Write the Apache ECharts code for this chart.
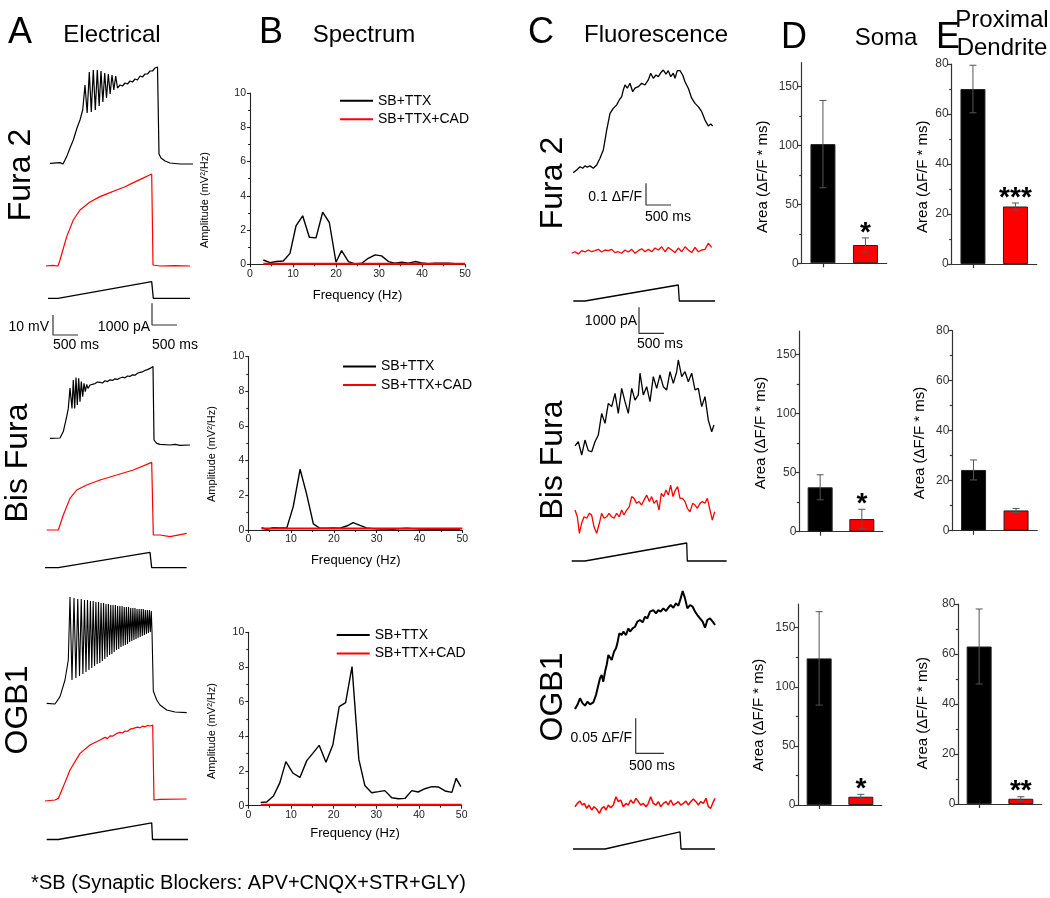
<!DOCTYPE html>
<html><head><meta charset="utf-8">
<script src="https://cdn.jsdelivr.net/npm/echarts@6/dist/echarts.min.js"></script>
<style>html,body{margin:0;padding:0;background:#fff}#c{width:1050px;height:898px}</style>
</head><body><div id="c"></div>
<script>
// ---------- Panel A: electrical traces  [time (ms), potential above baseline (mV)] / ramp [ms, pA]
const elecFura2Ctrl = [[200,3.3],[400,3.7],[460,3],[534,6.7],[600,11],[666,15],[740,21],[800,25],[854,30],[900,42.5],[943,28.5],[986,49],[1026,29],[1066,50],[1106,30],[1146,50],[1183,32],[1220,49.5],[1257,34],[1294,48.5],[1330,36],[1366,48],[1403,38],[1440,47.5],[1477,40],[1514,47],[1550,41],[1600,42.5],[1650,42],[1700,43.5],[1750,43],[1800,44.5],[1850,44],[1900,45.5],[1950,45],[2000,47],[2050,46.5],[2100,48],[2150,48],[2200,49.5],[2250,49.5],[2300,51],[2350,51.5],[2366,51],[2380,8],[2420,6],[2500,4.5],[2600,3.5],[2800,3],[3000,3],[3060,3]];
const elecFura2Cad = [[120,2],[250,2.3],[360,2],[400,5],[534,16.7],[666,25],[800,30],[1000,34],[1200,36.7],[1350,38.2],[1534,40],[1700,41.6],[1866,43.7],[2050,45.8],[2234,48],[2260,2.5],[2400,2],[2700,2.2],[3000,2]];
const rampFura2 = [[160,0],[360,0],[2234,770],[2266,0],[3000,0]];
const elecBisCtrl = [[200,5.8],[400,6],[466,9.2],[534,16.7],[566,20.8],[600,31],[614,31.7],[640,20.8],[666,35],[694,20.8],[720,36.2],[746,22.5],[774,35.8],[800,24.2],[826,34.2],[854,26.7],[880,33.3],[906,29.2],[934,32.8],[960,30.8],[1000,32.5],[1100,33.2],[1150,34],[1200,33.8],[1250,33.5],[1300,34.6],[1350,34.2],[1400,35.1],[1450,34.8],[1500,35.6],[1550,35.3],[1600,36],[1650,36.4],[1700,36.1],[1750,37],[1800,36.8],[1850,37.6],[1900,37.4],[1950,38.4],[2000,38.8],[2050,39.1],[2100,39.8],[2150,40.2],[2200,40.8],[2260,41.7],[2280,5],[2334,3.3],[2400,2.8],[2600,2.5],[2700,2.8],[2800,2.3],[3000,2.5]];
const elecBisCad = [[134,5],[366,5],[466,12.5],[600,20.8],[734,25],[934,27.5],[1200,30],[1534,32.5],[1866,35],[2234,38.8],[2266,2.5],[2400,2.5],[2600,1.7],[2934,3.3]];
const rampBis = [[100,0],[366,0],[2200,708],[2234,0],[2934,0]];
const elecOgbCtrl = [[134,5.8],[300,5.5],[400,9.2],[500,17.5],[566,27.5],[600,59],[640,17.5],[680,58.5],[718,18.5],[755,58],[790,19.5],[825,58],[858,20.5],[890,57.5],[920,21.5],[950,57.5],[979,22.5],[1008,57],[1036,23.5],[1064,57],[1091,24.5],[1118,56.5],[1144,25.5],[1170,56.5],[1196,26],[1221,56],[1246,27],[1271,56],[1296,28],[1320,55.5],[1344,29],[1368,55.5],[1392,30],[1415,55],[1438,30.5],[1461,55],[1484,31.5],[1507,55],[1530,32.5],[1552,54.5],[1575,33],[1597,54.5],[1619,34],[1641,54.5],[1663,34.5],[1685,54],[1707,35],[1728,54],[1750,35.5],[1771,54],[1793,36.5],[1814,53.5],[1836,37],[1857,53.5],[1878,37.5],[1899,53.5],[1920,38],[1941,53],[1962,38.5],[1983,53],[2004,39],[2025,53],[2046,39.5],[2066,53],[2087,40],[2107,52.5],[2128,40.5],[2148,52.5],[2168,41],[2188,52.5],[2207,41.5],[2226,52],[2240,41.7],[2266,12],[2334,7.5],[2400,5],[2534,2.5],[2700,1.5],[2934,1.2]];
const elecOgbCad = [[100,2],[300,2.5],[366,3.3],[466,9.2],[600,17.5],[800,25.8],[1000,30],[1200,32.5],[1300,33.8],[1350,33.2],[1400,34.6],[1450,34.4],[1534,35.8],[1600,36.3],[1650,36],[1700,37],[1750,36.8],[1800,37.9],[1866,38.3],[1900,38.2],[1950,38.9],[2000,38.6],[2050,39.4],[2100,39.1],[2150,39.8],[2200,39.5],[2234,40],[2254,40],[2280,2.5],[2400,2.8],[2934,3]];
const rampOgb = [[134,0],[366,0],[2234,764],[2250,0],[2960,0]];

// ---------- Panel B: spectra  (frequency Hz, amplitude mV^2/Hz)
const specFreqFura2 = [3.1,4.65,6.2,7.75,9.3,10.7,12.25,13.8,15.35,16.9,18.45,20,21.3,22.9,24.4,26,27.5,29.1,30.6,32.2,33.7,35.3,36.8,38.4,39.9,41.5,43,44.6,46.1,47.7,49.2];
const specFura2Ctrl = [0.25,0.1,0.16,0.19,0.64,2.24,2.83,1.58,1.54,3.04,2.44,0.12,0.8,0.16,0.02,0.06,0.35,0.55,0.49,0.16,0.06,0.12,0.06,0.16,0.08,0.04,0.06,0.06,0.06,0.04,0.02];
const specFura2Cad = [0.03,0.03,0.03,0.03,0.03,0.03,0.03,0.03,0.03,0.03,0.03,0.03,0.03,0.03,0.03,0.03,0.03,0.03,0.03,0.03,0.03,0.03,0.03,0.03,0.03,0.03,0.03,0.03,0.03,0.03,0.03];
const specFreqBis = [3.1,4.3,5.8,7.4,9.0,10.5,12.1,13.6,15.2,16.7,18.3,19.9,21.4,23,24.5,26.1,27.6,29.2,30.8,32.3,33.9,35.4,37,38.5,40.1,41.7,43.2,44.8,46.3,47.9,49.5];
const specBisCtrl = [0.13,0.04,0.13,0.12,0.12,1.35,3.5,2.1,0.35,0.1,0.1,0.12,0.1,0.23,0.42,0.27,0.12,0.08,0.06,0.06,0.04,0.08,0.1,0.08,0.06,0.04,0.06,0.04,0.06,0.04,0.04];
const specBisCad = [0.08,0.08,0.08,0.08,0.08,0.08,0.08,0.08,0.08,0.08,0.08,0.08,0.08,0.08,0.08,0.08,0.08,0.08,0.08,0.08,0.08,0.08,0.08,0.08,0.08,0.08,0.08,0.08,0.08,0.08,0.08];
const specFreqOgb = [2.9,4.3,5.9,7.4,8.8,10.5,12.1,13.7,15.1,16.6,18.2,19.8,21.3,22.8,24.3,25.9,27.3,28.9,30.5,32,33.6,35.2,36.7,38.3,39.8,41.4,43,44.5,46.1,47.7,48.7,49.8];
const specOgbCtrl = [0.19,0.21,0.56,1.33,2.54,1.87,1.63,2.6,3.02,3.48,2.5,3.5,5.71,5.94,8.02,2.67,1.17,0.75,0.81,0.87,0.46,0.4,0.42,0.87,0.79,0.98,1.1,1.08,0.85,0.77,1.58,1.1];
const specOgbCad = [0.05,0.05,0.05,0.05,0.05,0.05,0.05,0.05,0.05,0.05,0.05,0.05,0.05,0.05,0.05,0.05,0.05,0.05,0.05,0.05,0.05,0.05,0.05,0.05,0.05,0.05,0.05,0.05,0.05,0.05,0.05,0.05];
const specLegend = ['SB+TTX', 'SB+TTX+CAD'];

// ---------- Panel C: fluorescence  [time ms, ΔF/F] / ramp [ms, pA]
const fluoFura2Ctrl = [[66,0.034],[134,0.046],[200,0.061],[254,0.054],[300,0.065],[346,0.059],[400,0.065],[466,0.054],[534,0.069],[600,0.1],[666,0.138],[734,0.23],[800,0.307],[866,0.33],[934,0.346],[986,0.369],[1034,0.384],[1066,0.415],[1100,0.438],[1146,0.423],[1200,0.446],[1254,0.407],[1300,0.423],[1366,0.43],[1434,0.446],[1500,0.438],[1566,0.461],[1614,0.492],[1666,0.469],[1720,0.484],[1766,0.476],[1814,0.494],[1866,0.507],[1920,0.488],[1966,0.504],[2014,0.476],[2066,0.492],[2100,0.469],[2146,0.504],[2200,0.504],[2254,0.484],[2300,0.453],[2366,0.423],[2434,0.377],[2500,0.353],[2566,0.338],[2634,0.315],[2700,0.276],[2766,0.249],[2814,0.258],[2854,0.249]];
const fluoFura2Cad = [[34,0.031],[100,0.038],[166,0.028],[234,0.043],[300,0.037],[366,0.046],[434,0.038],[500,0.043],[566,0.049],[634,0.037],[700,0.046],[766,0.043],[834,0.049],[900,0.034],[966,0.038],[1034,0.031],[1100,0.046],[1166,0.037],[1234,0.049],[1300,0.031],[1366,0.043],[1434,0.052],[1500,0.038],[1566,0.049],[1634,0.038],[1700,0.055],[1766,0.046],[1834,0.061],[1900,0.038],[1966,0.058],[2034,0.046],[2100,0.034],[2166,0.055],[2234,0.038],[2300,0.061],[2366,0.046],[2434,0.034],[2500,0.058],[2566,0.038],[2634,0.046],[2700,0.049],[2766,0.077],[2834,0.058]];
const fluoRampFura2 = [[66,0],[300,0],[2166,616],[2186,0],[2900,0]];
const fluoBisCtrl = [[100,0.065],[166,0.084],[234,0.023],[300,0.092],[366,0.043],[434,0.038],[500,0.084],[566,0.115],[634,0.215],[700,0.169],[766,0.261],[834,0.246],[900,0.307],[966,0.215],[1034,0.33],[1100,0.269],[1166,0.215],[1234,0.33],[1300,0.276],[1366,0.3],[1400,0.4],[1466,0.3],[1534,0.338],[1600,0.269],[1666,0.384],[1734,0.33],[1800,0.392],[1866,0.338],[1934,0.323],[2000,0.407],[2066,0.353],[2134,0.407],[2166,0.461],[2234,0.384],[2300,0.407],[2366,0.361],[2434,0.4],[2500,0.323],[2566,0.33],[2634,0.246],[2700,0.292],[2766,0.184],[2834,0.13],[2880,0.161]];
const fluoBisCad = [[100,0.138],[147,0.107],[187,0.031],[233,0.077],[280,0.107],[333,0.1],[387,0.123],[433,0.115],[480,0.061],[533,0.031],[587,0.077],[633,0.123],[680,0.1],[733,0.107],[780,0.123],[833,0.107],[880,0.1],[933,0.123],[987,0.107],[1033,0.138],[1080,0.115],[1133,0.138],[1187,0.154],[1233,0.2],[1280,0.192],[1333,0.169],[1380,0.177],[1433,0.161],[1480,0.184],[1533,0.207],[1587,0.177],[1633,0.2],[1680,0.169],[1733,0.184],[1780,0.138],[1827,0.215],[1873,0.2],[1920,0.23],[1967,0.207],[2013,0.253],[2060,0.2],[2107,0.23],[2153,0.246],[2200,0.192],[2253,0.192],[2300,0.177],[2347,0.146],[2400,0.13],[2453,0.169],[2500,0.161],[2547,0.146],[2600,0.169],[2647,0.177],[2700,0.169],[2747,0.192],[2800,0.138],[2847,0.092],[2893,0.13]];
const fluoRampBis = [[34,0],[300,0],[2334,693],[2346,0],[3134,0]];
const fluoOgbCtrl = [[88,0.0157],[130,0.0214],[177,0.031],[224,0.0238],[266,0.0205],[307,0.0262],[354,0.0224],[413,0.0252],[460,0.0357],[502,0.05],[531,0.0595],[561,0.0643],[590,0.0548],[620,0.069],[649,0.0786],[679,0.0929],[708,0.0905],[738,0.0857],[779,0.0976],[814,0.1024],[838,0.1095],[873,0.1238],[915,0.1214],[944,0.1262],[991,0.1214],[1033,0.131],[1062,0.1262],[1109,0.131],[1151,0.1333],[1192,0.1405],[1239,0.1429],[1286,0.1395],[1328,0.1476],[1369,0.1452],[1416,0.1548],[1475,0.1571],[1522,0.1524],[1564,0.1571],[1605,0.1548],[1652,0.1595],[1699,0.1557],[1741,0.1605],[1782,0.1643],[1829,0.1605],[1876,0.1667],[1918,0.1633],[1959,0.1738],[1994,0.1843],[2036,0.1738],[2077,0.1595],[2124,0.1643],[2171,0.1619],[2213,0.1548],[2254,0.15],[2301,0.1452],[2348,0.1405],[2390,0.1319],[2431,0.1429],[2478,0.1452],[2525,0.1405],[2567,0.1357]];
const fluoOgbCad = [[88,0.019],[130,0.0238],[177,0.0271],[218,0.0214],[254,0.0238],[295,0.0167],[336,0.0214],[384,0.0143],[425,0.019],[472,0.0157],[519,0.0095],[561,0.0167],[602,0.019],[637,0.0143],[679,0.0214],[720,0.0176],[767,0.0214],[814,0.0333],[856,0.0262],[897,0.0286],[944,0.019],[991,0.0238],[1033,0.0214],[1074,0.0286],[1121,0.0238],[1168,0.031],[1210,0.0262],[1251,0.0214],[1298,0.0238],[1345,0.019],[1387,0.0238],[1428,0.0333],[1475,0.0238],[1522,0.0214],[1564,0.0262],[1605,0.019],[1652,0.0238],[1699,0.0262],[1741,0.0214],[1782,0.0286],[1829,0.0214],[1876,0.0238],[1918,0.0262],[1959,0.0214],[2006,0.0238],[2053,0.0271],[2095,0.0214],[2136,0.0262],[2183,0.03],[2230,0.0262],[2272,0.0214],[2313,0.0262],[2360,0.0238],[2407,0.031],[2449,0.019],[2490,0.0167],[2537,0.0262],[2567,0.031]];
const fluoRampOgb = [[53,0],[620,0],[1947,655],[1965,0],[2567,0]];

// ---------- Panels D, E: integrated fluorescence area (ΔF/F * ms), mean and error
const barGroups = ['SB+TTX', 'SB+TTX+CAD'];
const somaFura2 = [101, 15.5], somaFura2Err = [37, 6], somaFura2Sig = ['', '*'];
const somaBis = [37.6, 10.7], somaBisErr = [10.6, 8.3], somaBisSig = ['', '*'];
const somaOgb = [124, 7], somaOgbErr = [39.5, 2], somaOgbSig = ['', '*'];
const dendFura2 = [70, 23], dendFura2Err = [9.5, 1.4], dendFura2Sig = ['', '***'];
const dendBis = [24.3, 8.1], dendBisErr = [4, 0.8], dendBisSig = ['', ''];
const dendOgb = [63, 2.1], dendOgbErr = [15, 0.8], dendOgbSig = ['', '**'];
const somaTicks = [0, 50, 100, 150];
const dendTicks = [0, 20, 40, 60, 80];

// ---------- scale bars (lengths in data units, anchored at a data point)
const barElecMV = {t:260, v:2.5, dt:500, dv:10};
const barElecPA = {t:2240, v:690, dt:500, dv:1000};
const barFluoFura2 = {t:1520, v:0.1152, dt:500, dv:0.1};
const barFluoPA = {t:1380, v:258, dt:500, dv:1000};
const barFluoOgb = {t:1163, v:0.0096, dt:500, dv:0.05};

// =====================================================================
const FONT = '"Liberation Sans", Arial, Helvetica, sans-serif';
const RED = '#ff0000';
const grids = [], xAxes = [], yAxes = [], series = [], legends = [], texts = [];

function addGrid(box, xr, yr) {
  const i = grids.length;
  grids.push({left: box[0], top: box[1], width: box[2], height: box[3], containLabel: false, outerBoundsMode: 'none'});
  xAxes.push({gridIndex: i, type: 'value', min: xr[0], max: xr[1], show: false});
  yAxes.push({gridIndex: i, type: 'value', min: yr[0], max: yr[1], show: false});
  return i;
}
function addLine(i, data, color, width, name) {
  series.push({type: 'line', name: name, xAxisIndex: i, yAxisIndex: i, data: data, symbol: 'none', showSymbol: false,
    clip: false, silent: true, animation: false, lineStyle: {color: color, width: width}, itemStyle: {color: color}, z: 3});
}
function addScaleBar(i, b) {
  addLine(i, [[b.t, b.v + b.dv], [b.t, b.v], [b.t + b.dt, b.v]], '#333', 1.2);
}
function txt(text, x, y, size, opt) {
  opt = opt || {};
  texts.push({type: 'text', x: x, y: y, rotation: opt.rot || 0, silent: true,
    style: {text: text, fontSize: size, fontFamily: FONT, fill: '#000', align: opt.align || 'center',
      verticalAlign: 'middle', fontWeight: opt.weight || 'normal'}});
}
const zip = (a, b) => a.map((v, k) => [v, b[k]]);

// ---- Panel A
let g;
g = addGrid([40, 60, 160, 110], [0, 3200], [0, 55]); addLine(g, elecFura2Ctrl, '#000', 1.2);
g = addGrid([40, 170, 160, 100], [0, 3200], [0, 50]); addLine(g, elecFura2Cad, RED, 1.2);
g = addGrid([40, 270, 160, 28.3], [0, 3200], [0, 1302]); addLine(g, rampFura2, '#000', 1.3);
g = addGrid([40, 300, 160, 40], [0, 3200], [0, 20]); addScaleBar(g, barElecMV);
g = addGrid([40, 300, 160, 40], [0, 3200], [0, 1840]); addScaleBar(g, barElecPA);
g = addGrid([40, 360, 160, 90], [0, 3200], [0, 45]); addLine(g, elecBisCtrl, '#000', 1.2);
g = addGrid([40, 450, 160, 90], [0, 3200], [0, 45]); addLine(g, elecBisCad, RED, 1.2);
g = addGrid([40, 540, 160, 27.7], [0, 3200], [0, 1274]); addLine(g, rampBis, '#000', 1.3);
g = addGrid([40, 590, 160, 125], [0, 3200], [0, 62.5]); addLine(g, elecOgbCtrl, '#000', 1.1);
g = addGrid([40, 715, 160, 90], [0, 3200], [0, 45]); addLine(g, elecOgbCad, RED, 1.2);
g = addGrid([40, 805, 160, 34.5], [0, 3200], [0, 1587]); addLine(g, rampOgb, '#000', 1.3);

// ---- Panel C
g = addGrid([570, 60, 160, 120], [0, 3200], [0, 0.553]); addLine(g, fluoFura2Ctrl, '#000', 1.3);
g = addGrid([570, 180, 160, 50], [0, 3200], [0, 0.2304]); addScaleBar(g, barFluoFura2);
g = addGrid([570, 230, 160, 30], [0, 3200], [0, 0.138]); addLine(g, fluoFura2Cad, RED, 1.3);
g = addGrid([570, 270, 160, 31], [0, 3200], [0, 1194]); addLine(g, fluoRampFura2, '#000', 1.3);
g = addGrid([570, 301, 160, 39], [0, 3200], [0, 1502]); addScaleBar(g, barFluoPA);
g = addGrid([570, 350, 160, 110], [0, 3200], [0, 0.507]); addLine(g, fluoBisCtrl, '#000', 1.3);
g = addGrid([570, 470, 160, 70], [0, 3200], [0, 0.3226]); addLine(g, fluoBisCad, RED, 1.3);
g = addGrid([570, 540, 160, 21], [0, 3200], [0, 808]); addLine(g, fluoRampBis, '#000', 1.3);
g = addGrid([570, 585, 150, 135], [0, 2655], [0, 0.1929]); addLine(g, fluoOgbCtrl, '#000', 2);
g = addGrid([570, 715, 150, 45], [0, 2655], [0, 0.0643]); addScaleBar(g, barFluoOgb);
g = addGrid([570, 790, 150, 30], [0, 2655], [0, 0.0429]); addLine(g, fluoOgbCad, RED, 1.5);
g = addGrid([570, 825, 150, 24], [0, 2655], [0, 924]); addLine(g, fluoRampOgb, '#000', 1.3);

// ---- Panel B
function spectrum(box, legendPos, f, ctrl, cad) {
  const i = grids.length;
  grids.push({left: box[0], top: box[1], width: box[2], height: box[3], containLabel: false, outerBoundsMode: 'none'});
  const ax = {color: '#222', width: 1.1};
  const lab = {fontSize: 10.5, color: '#222', fontFamily: FONT, margin: 4};
  xAxes.push({gridIndex: i, type: 'value', min: 0, max: 50, interval: 10,
    axisLine: {show: true, onZero: false, lineStyle: ax}, axisTick: {show: true, length: 3, lineStyle: ax},
    minorTick: {show: true, splitNumber: 2, length: 2, lineStyle: ax}, splitLine: {show: false}, axisLabel: lab});
  yAxes.push({gridIndex: i, type: 'value', min: 0, max: 10, interval: 2,
    axisLine: {show: true, onZero: false, lineStyle: ax}, axisTick: {show: true, length: 3, lineStyle: ax},
    minorTick: {show: true, splitNumber: 2, length: 2, lineStyle: ax}, splitLine: {show: false}, axisLabel: lab});
  addLine(i, zip(f, ctrl), '#000', 1.4, specLegend[0]);
  addLine(i, zip(f.concat([50]), cad.concat([cad[cad.length - 1]])), RED, 2, specLegend[1]);
  legends.push({data: specLegend, orient: 'vertical', left: legendPos[0], top: legendPos[1], icon: 'rect',
    itemWidth: 33, itemHeight: 2, itemGap: 4.6, padding: 0, selectedMode: false,
    textStyle: {fontSize: 14, color: '#000', fontFamily: FONT}});
}
spectrum([250, 93, 215, 171.3], [340, 93.7], specFreqFura2, specFura2Ctrl, specFura2Cad);
spectrum([248.3, 356.5, 214, 173.5], [343, 359.4], specFreqBis, specBisCtrl, specBisCad);
spectrum([248.3, 632.3, 213.4, 173.4], [336.7, 628], specFreqOgb, specOgbCtrl, specOgbCad);

// ---- Panels D, E
function barPanel(box, yMax, ticks, means, errs, sig) {
  const i = grids.length;
  grids.push({left: box[0], top: box[1], width: box[2], height: box[3], containLabel: false, outerBoundsMode: 'none'});
  const ax = {color: '#333', width: 1.2};
  xAxes.push({gridIndex: i, type: 'category', data: barGroups, boundaryGap: true,
    axisLine: {show: true, lineStyle: ax}, axisTick: {show: true, alignWithLabel: true, length: 4, lineStyle: ax},
    axisLabel: {show: false}, splitLine: {show: false}});
  yAxes.push({gridIndex: i, type: 'value', min: 0, max: yMax, interval: ticks[1] - ticks[0],
    axisLine: {show: true, onZero: false, lineStyle: ax},
    axisTick: {show: true, length: 4, lineStyle: ax, customValues: ticks},
    minorTick: {show: true, splitNumber: 2, length: 2.5, lineStyle: ax},
    axisLabel: {customValues: ticks, fontSize: 12, color: '#333', fontFamily: FONT, margin: 3},
    splitLine: {show: false}});
  series.push({type: 'bar', xAxisIndex: i, yAxisIndex: i, barWidth: 25, silent: true, animation: false,
    data: means.map((m, k) => ({value: m, itemStyle: {color: k === 0 ? '#000' : RED}})),
    itemStyle: {borderColor: '#222', borderWidth: 1}});
  series.push({type: 'custom', xAxisIndex: i, yAxisIndex: i, silent: true, animation: false, z: 5,
    data: means.map((m, k) => [k, m]),
    renderItem: function (params, api) {
      const k = params.dataIndex, m = api.value(1), e = errs[k];
      const hi = api.coord([k, m + e]), lo = api.coord([k, m - e]);
      const cw = 3.5, st = {stroke: '#555', lineWidth: 1};
      const ch = [
        {type: 'line', shape: {x1: hi[0], y1: hi[1], x2: lo[0], y2: lo[1]}, style: st},
        {type: 'line', shape: {x1: hi[0] - cw, y1: hi[1], x2: hi[0] + cw, y2: hi[1]}, style: st},
        {type: 'line', shape: {x1: lo[0] - cw, y1: lo[1], x2: lo[0] + cw, y2: lo[1]}, style: st}];
      if (sig[k]) ch.push({type: 'text', x: hi[0], y: hi[1] - 5,
        style: {text: sig[k], fontSize: 28, fontWeight: 'bold', fontFamily: FONT, fill: '#000', align: 'center', verticalAlign: 'middle'}});
      return {type: 'group', children: ch};
    }});
  return i;
}
barPanel([801.7, 62.7, 85, 200.6], 170, somaTicks, somaFura2, somaFura2Err, somaFura2Sig);
barPanel([951.7, 64, 85, 200], 80, dendTicks, dendFura2, dendFura2Err, dendFura2Sig);
barPanel([799.3, 331, 83.4, 200.7], 170, somaTicks, somaBis, somaBisErr, somaBisSig);
barPanel([952.3, 330.7, 85, 200], 80, dendTicks, dendBis, dendBisErr, dendBisSig);
barPanel([798.3, 604, 83.4, 201], 170, somaTicks, somaOgb, somaOgbErr, somaOgbSig);
barPanel([958.3, 604, 83.4, 200], 80, dendTicks, dendOgb, dendOgbErr, dendOgbSig);

// ---- texts
const R = Math.PI / 2;
txt('A', 20, 33, 36); txt('Electrical', 112, 35, 24);
txt('B', 271, 33, 36); txt('Spectrum', 364, 35, 24);
txt('C', 541, 33, 36); txt('Fluorescence', 656, 35, 24);
txt('D', 794, 38, 36); txt('Soma', 886, 38, 24);
txt('E', 948, 38, 36); txt('Proximal', 1002, 20, 24); txt('Dendrite', 1002, 48, 24);
txt('Fura 2', 21, 175, 32, {rot: R}); txt('Bis Fura', 18, 463, 32, {rot: R}); txt('OGB1', 18, 710, 32, {rot: R});
txt('Fura 2', 553, 183, 32, {rot: R}); txt('Bis Fura', 553, 460, 32, {rot: R}); txt('OGB1', 553, 697, 32, {rot: R});
txt('10 mV', 49, 327, 14, {align: 'right'}); txt('500 ms', 53, 345, 14, {align: 'left'});
txt('1000 pA', 150, 327, 14, {align: 'right'}); txt('500 ms', 152, 345, 14, {align: 'left'});
txt('0.1 \u0394F/F', 642, 196.7, 14, {align: 'right'}); txt('500 ms', 645, 216.7, 14, {align: 'left'});
txt('1000 pA', 637, 320.7, 14, {align: 'right'}); txt('500 ms', 637, 344, 14, {align: 'left'});
txt('0.05 \u0394F/F', 632, 738, 14, {align: 'right'}); txt('500 ms', 629, 766, 14, {align: 'left'});
txt('Amplitude (mV\u00b2/Hz)', 205, 200, 11, {rot: R}); txt('Frequency (Hz)', 357.5, 295, 13);
txt('Amplitude (mV\u00b2/Hz)', 211.7, 454, 11, {rot: R}); txt('Frequency (Hz)', 355.7, 560, 13);
txt('Amplitude (mV\u00b2/Hz)', 211.7, 731, 11, {rot: R}); txt('Frequency (Hz)', 355, 833, 13);
const areaLbl = 'Area (\u0394F/F * ms)';
txt(areaLbl, 763, 176.7, 15, {rot: R}); txt(areaLbl, 923.3, 176.7, 15, {rot: R});
txt(areaLbl, 760.7, 433, 15, {rot: R}); txt(areaLbl, 920, 443, 15, {rot: R});
txt(areaLbl, 759.3, 715, 15, {rot: R}); txt(areaLbl, 923.3, 713.3, 15, {rot: R});
txt('*SB (Synaptic Blockers: APV+CNQX+STR+GLY)', 248.5, 883, 20);

const chart = echarts.init(document.getElementById('c'), null, {renderer: 'canvas'});
chart.setOption({
  backgroundColor: '#fff', animation: false, textStyle: {fontFamily: FONT},
  grid: grids, xAxis: xAxes, yAxis: yAxes, series: series, legend: legends,
  graphic: {elements: texts}, tooltip: {show: false}
});
</script></body></html>
